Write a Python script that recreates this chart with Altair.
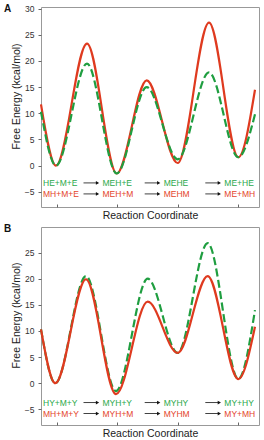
import altair as alt
import pandas as pd

FONT = "Liberation Sans"
RED = "#df3a1f"
GREEN = "#1f9e40"
RED_TXT = "#e4442a"
GREEN_TXT = "#2aa84a"

# ---- Panel A data ----
xA = [0, 15, 46, 75.7, 105.7, 136.7, 168, 197.3, 214]
redA = [11.7, 0, 23.3, -1.5, 16.3, 0.5, 27.3, 1.6, 14.5]
greenA = [10.3, 0, 19.5, -1.5, 15.0, 1.2, 17.8, 1.6, 9.8]
greenLabelsA = ["HE+M+E", "MEH+E", "MEHE", "ME+HE"]
redLabelsA = ["MH+M+E", "MEH+M", "MEHM", "ME+MH"]

# ---- Panel B data ----
xB = [0, 14.3, 45, 75, 106.7, 136.7, 166.7, 197.3, 214]
redB = [10.3, 0, 19.9, -2.1, 15.6, 5.8, 20.5, 0.8, 10.8]
greenB = [10.3, 0, 20.5, -1.5, 20.0, 5.8, 26.8, 0.8, 14.0]
greenLabelsB = ["HY+M+Y", "MYH+Y", "MYHY", "MY+HY"]
redLabelsB = ["MH+M+Y", "MYH+M", "MYHM", "MY+MH"]

# state positions along the reaction coordinate (x ticks)
states = [16, 75.5, 136.7, 197.3]
yticksA = [-5, 0, 5, 10, 15, 20, 25, 30]
yticksB = [-5, 0, 5, 10, 15, 20, 25]


def panel(letter, xs, red, green, glabels, rlabels, ydom, yticks, height,
          green_on_top, gy, ry, title_y):
    xscale = alt.Scale(domain=[0, 218], nice=False, zero=False)
    yscale = alt.Scale(domain=ydom, nice=False, zero=False)
    xaxis = alt.Axis(values=states, tickCount=20, labels=False, domain=False,
                     grid=False, tickSize=3, offset=-3, tickColor="#666",
                     title="Reaction Coordinate", titleFontSize=10.5,
                     titleFontWeight="normal", titleColor="#222", titlePadding=3)
    yaxis = alt.Axis(values=yticks, tickCount=20, domain=False, grid=False,
                     tickSize=3, tickColor="#666", labelPadding=4,
                     labelFontSize=8.5, labelColor="#333", labelOverlap=False,
                     title="Free Energy (kcal/mol)",
                     titleFontSize=10.5, titleFontWeight="normal",
                     titleColor="#222", titleX=-20, titleY=title_y,
                     titleBaseline="bottom")

    df = pd.DataFrame({"x": xs + xs, "E": red + green,
                       "s": ["red"] * len(xs) + ["green"] * len(xs)})

    def line(s, color, dash):
        mk = dict(interpolate="monotone", strokeWidth=2.2, color=color)
        if dash:
            mk["strokeDash"] = dash
        return alt.Chart(df).transform_filter(alt.datum.s == s).mark_line(**mk).encode(
            x=alt.X("x:Q", scale=xscale, axis=xaxis),
            y=alt.Y("E:Q", scale=yscale, axis=yaxis))

    red_line = line("red", RED, None)
    green_line = line("green", GREEN, [8, 3.5])

    labG = pd.DataFrame({"x": [s - 14 for s in states], "y": [gy] * 4,
                         "t": glabels})
    labR = pd.DataFrame({"x": [s - 14 for s in states], "y": [ry] * 4,
                         "t": rlabels})

    def text(d, color):
        return alt.Chart(d).mark_text(align="left", baseline="middle",
                                      fontSize=8.5, font=FONT,
                                      color=color).encode(
            x=alt.X("x:Q", scale=xscale, axis=xaxis),
            y=alt.Y("y:Q", scale=yscale, axis=yaxis),
            text="t:N")

    arr = pd.DataFrame({
        "x1": [s - 33 for s in states[1:]] * 2,
        "x2": [s - 19 for s in states[1:]] * 2,
        "y": [gy] * 3 + [ry] * 3,
    })
    shafts = alt.Chart(arr).mark_rule(color="#111", strokeWidth=0.8).encode(
        x=alt.X("x1:Q", scale=xscale, axis=xaxis), x2="x2:Q",
        y=alt.Y("y:Q", scale=yscale, axis=yaxis))
    heads = alt.Chart(arr).mark_point(shape="triangle-right", filled=True,
                                      size=14, color="#111", opacity=1).encode(
        x=alt.X("x2:Q", scale=xscale, axis=xaxis),
        y=alt.Y("y:Q", scale=yscale, axis=yaxis))

    letter_mark = alt.Chart(pd.DataFrame({"t": [letter]})).mark_text(
        align="left", baseline="middle", fontSize=10, fontWeight="bold",
        font=FONT, color="#111").encode(
        text="t:N", x=alt.value(-37), y=alt.value(2.3))

    lines = [red_line, green_line] if green_on_top else [green_line, red_line]
    return alt.layer(*lines, text(labG, GREEN_TXT), text(labR, RED_TXT),
                     shafts, heads, letter_mark).properties(
        width=218, height=height)


A = panel("A", xA, redA, greenA, greenLabelsA, redLabelsA, [-7.9, 30.3],
          yticksA, 200, True, -3.3, -5.4, 89)
B = panel("B", xB, redB, greenB, greenLabelsB, redLabelsB, [-8.0, 29.9],
          yticksB, 198, False, -3.7, -5.8, 88)

chart = alt.vconcat(A, B, spacing=1).properties(
    padding={"left": 3, "top": 3, "right": 0, "bottom": 0}
).configure_axis(labelFont=FONT, titleFont=FONT).configure_view(
    stroke="#999", strokeWidth=1)

chart.save("out.html", embed_options={"renderer": "svg", "actions": False})
